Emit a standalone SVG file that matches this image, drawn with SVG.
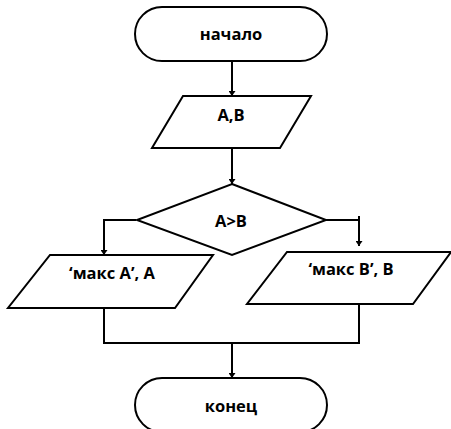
<svg xmlns="http://www.w3.org/2000/svg" width="451" height="429" viewBox="0 0 451 429">
<defs>
<style>
.s{fill:#fff;stroke:#000;stroke-width:2}
.c{fill:none;stroke:#000;stroke-width:2}
text{font-family:"Open Sans","Noto Sans",sans-serif;font-weight:bold;font-size:16.5px;fill:#000;text-anchor:middle}
</style>
<marker id="a" viewBox="0 0 10 10" refX="10" refY="5" markerWidth="5" markerHeight="7" markerUnits="userSpaceOnUse" orient="auto-start-reverse" preserveAspectRatio="none">
<path d="M0,0 L10,5 L0,10 Z" fill="#000"/>
</marker>
</defs>
<rect width="451" height="429" fill="#fff"/>
<g id="connectors">
<path class="c" d="M232,61 V96" marker-end="url(#a)"/>
<path class="c" d="M232,148 V184" marker-end="url(#a)"/>
<path class="c" d="M136,220 H104 V255" marker-end="url(#a)"/>
<path class="c" d="M326,220 H359"/>
<path class="c" d="M359,216 V246" marker-end="url(#a)"/>
<path class="c" d="M104,308 V343 H359 V304"/>
<path class="c" d="M232,343 V378" marker-end="url(#a)"/>
</g>
<g id="start">
<rect class="s" x="135" y="7" width="192" height="54" rx="27" ry="27"/>
<text x="231" y="40">начало</text>
</g>
<g id="input">
<polygon class="s" points="183,96 311,96 280,148 152,148"/>
<text x="231" y="121">A,B</text>
</g>
<g id="decision">
<polygon class="s" points="232,184 326,220 232,255 137,220"/>
<text x="231" y="227">A&gt;B</text>
</g>
<g id="outA">
<polygon class="s" points="50,255 213,255 175,308 8,308"/>
<text x="112" y="279">‘макс A’, A</text>
</g>
<g id="outB">
<polygon class="s" points="287,252 451,252 413,304 247,304"/>
<text x="351" y="275">‘макс B’, B</text>
</g>
<g id="end">
<rect class="s" x="135" y="378" width="192" height="54" rx="27" ry="27"/>
<text x="231" y="412">конец</text>
</g>
</svg>
